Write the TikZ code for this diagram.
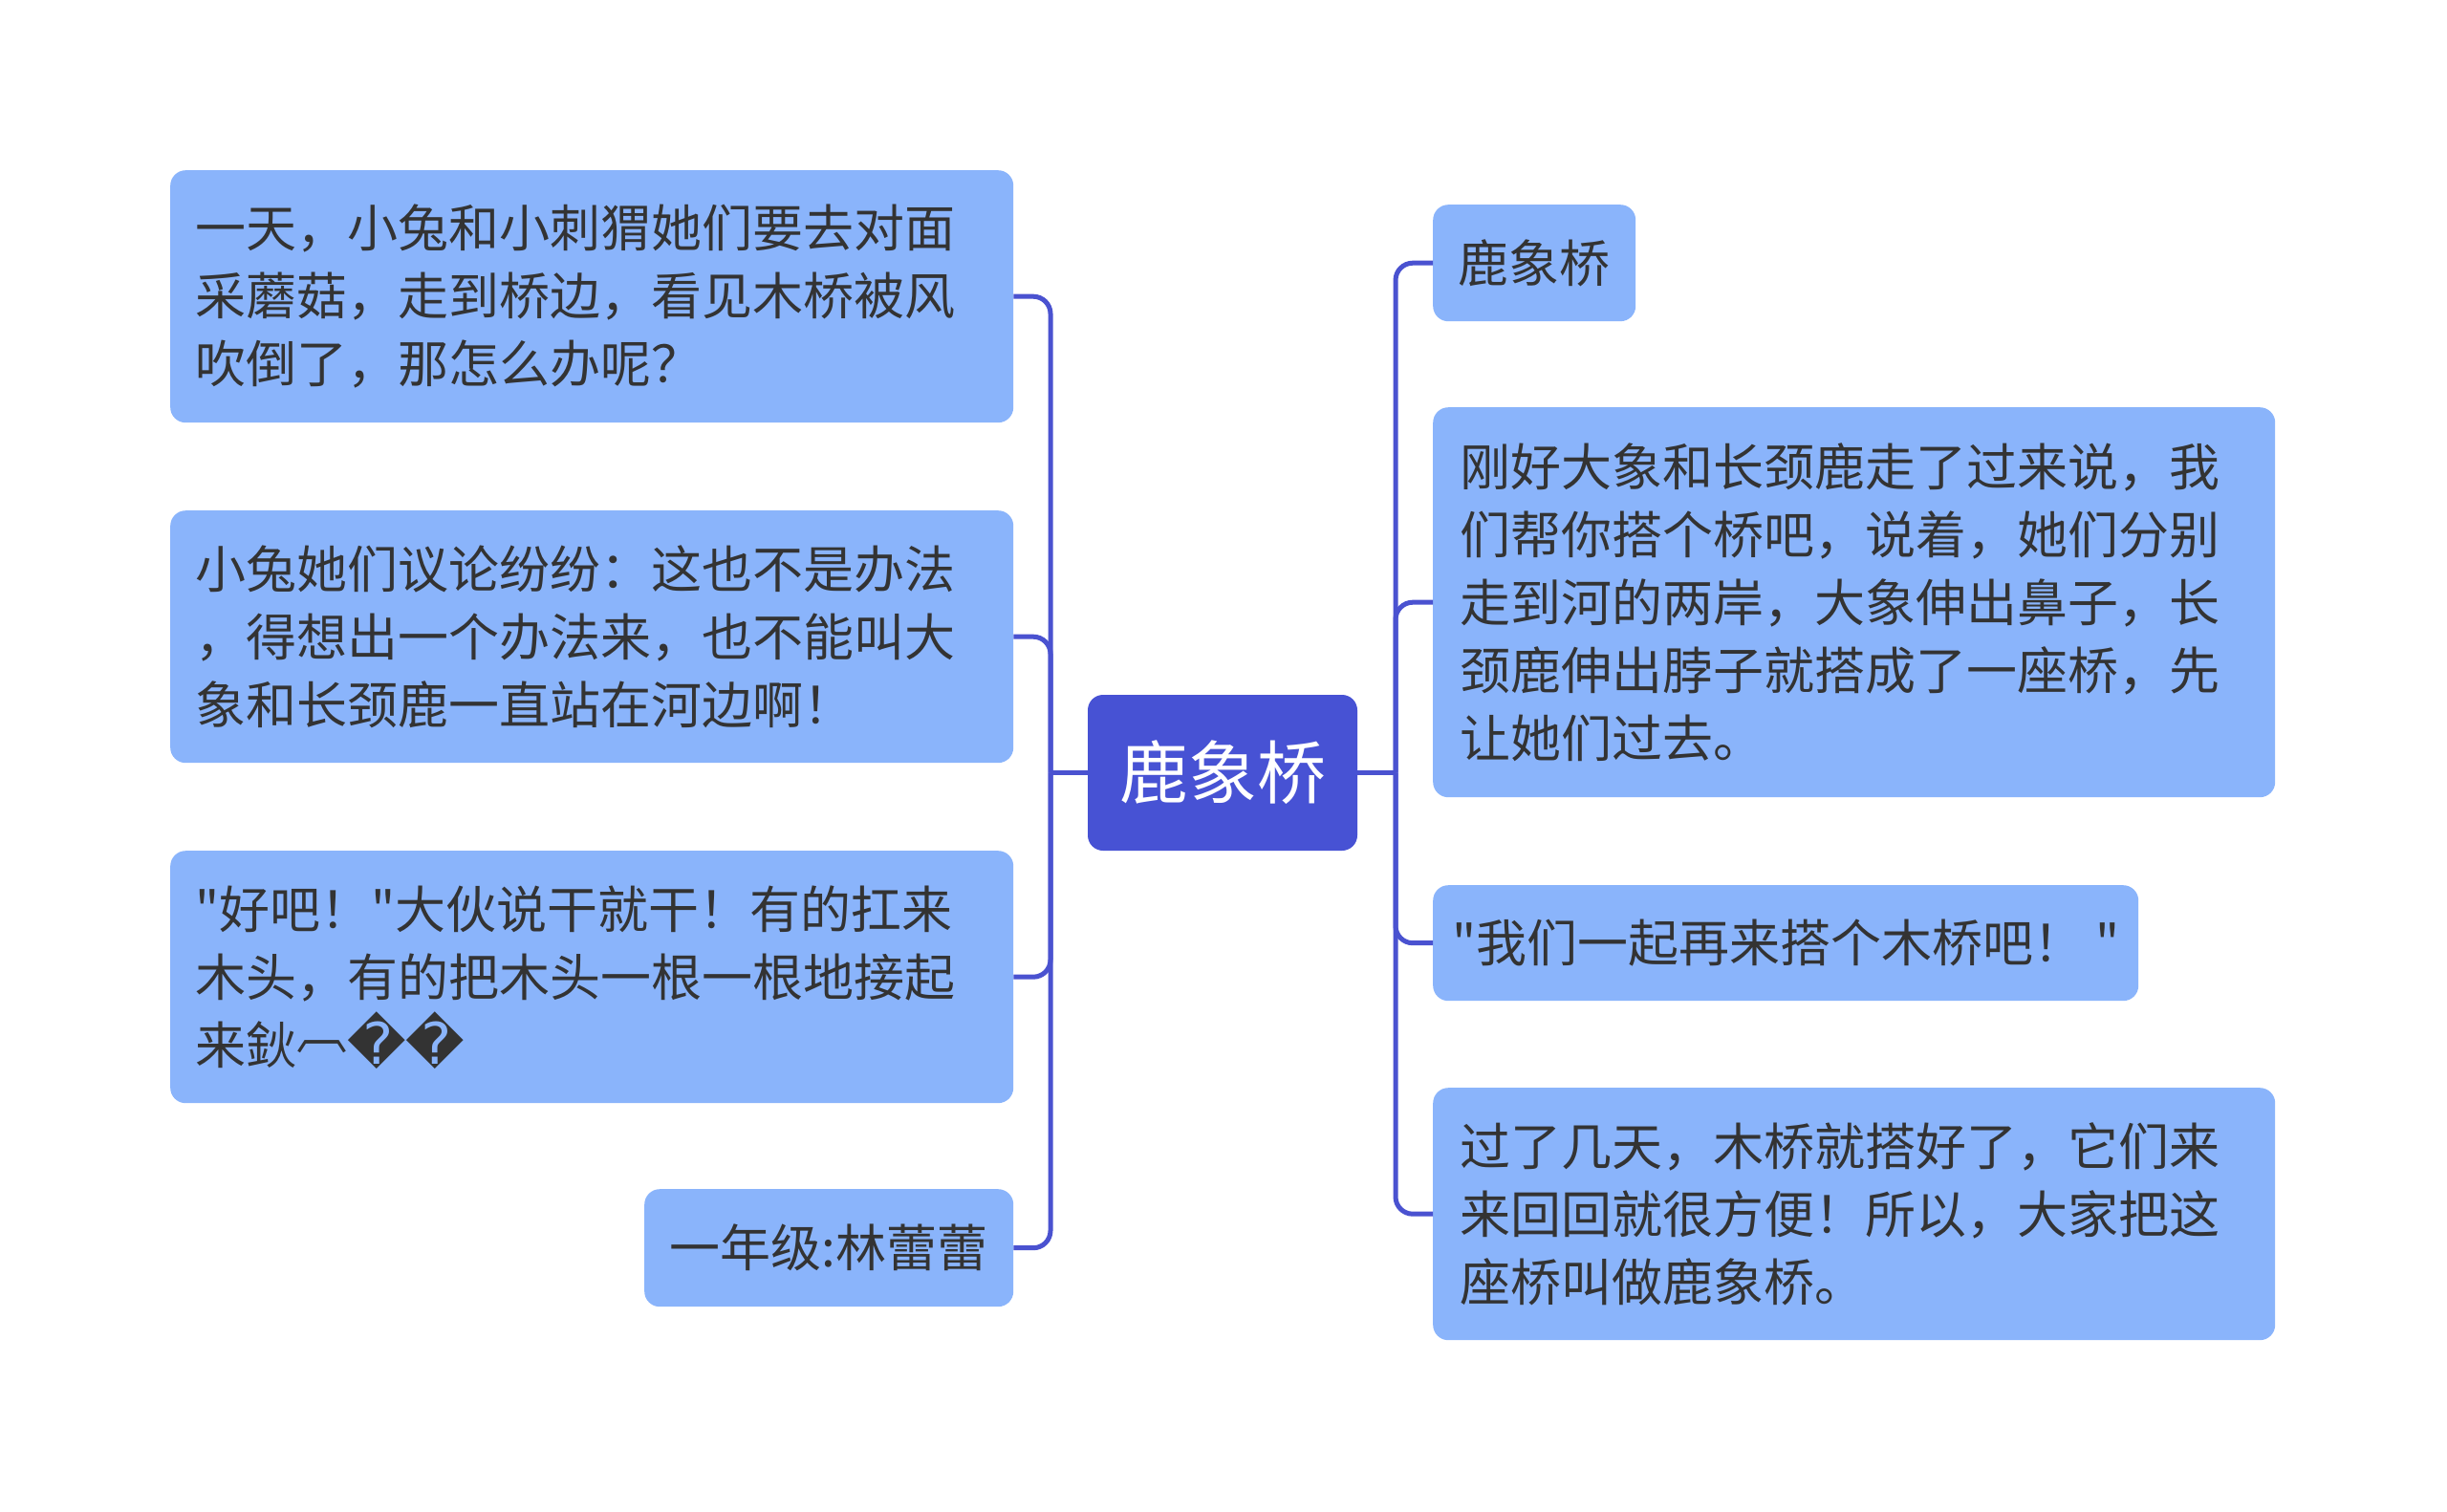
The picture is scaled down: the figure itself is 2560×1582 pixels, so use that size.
\documentclass[tikz,border=0pt]{standalone}
\usepackage{fontspec}
\setmainfont{Noto Sans CJK SC}[Ligatures=TeXOff]
\newfontfamily\replfont{DejaVu Sans}
\definecolor{connc}{RGB}{74,82,208}
\definecolor{boxfill}{RGB}{138,180,251}
\definecolor{rootfill}{RGB}{71,82,212}
\definecolor{txt}{RGB}{51,51,51}
\begin{document}
\begin{tikzpicture}[x=1pt,y=-1pt,
  leaf/.style={fill=boxfill, rounded corners=16pt, text=txt,
    font=\fontsize{53}{71}\selectfont, anchor=north west,
    inner xsep=26pt, inner ysep=0pt, align=left},
  shortleaf/.style={fill=boxfill, rounded corners=16pt, text=txt,
    font=\fontsize{53}{71}\selectfont, anchor=north west,
    inner sep=0pt, align=center},
  conn/.style={draw=connc, line width=5pt},
  connr/.style={draw=connc, line width=5pt, rounded corners=18pt}]
\useasboundingbox[fill=white] (0,0) rectangle (2560,1582);

% root
\node[fill=rootfill, rounded corners=16pt, text=white,
  font=\fontsize{72}{86}\selectfont, minimum width=282pt,
  minimum height=163pt, inner sep=0pt] (root) at (1279,808.5) {鹿象桥};

% left boxes
\node[leaf, text width=830pt, minimum height=264pt] (l1) at (178,178)
  {一天，小兔和小刺猬她们要去对面\\采蘑菇，走到桥边，看见木桥被风\\吹倒了，那怎么办呢？};
\node[leaf, text width=830pt, minimum height=264pt] (l2) at (178,534)
  {小兔她们议论纷纷：这也不是办法\\，得想出一个办法来，也不能叫大\\象和长颈鹿一直站在河边啊！};
\node[leaf, text width=830pt, minimum height=264pt] (l3) at (178,890)
  {"好吧！"大伙说干就干！有的扛来\\木头，有的把木头一根一根地接起\\来鈥\raisebox{0.3em}{︹}{\replfont\fontsize{60}{71}\selectfont ��}};
\node[shortleaf, minimum width=386pt, minimum height=123pt] (l4) at (674,1244)
  {一年级:林蕾蕾};

% right boxes
\node[shortleaf, minimum width=212pt, minimum height=122pt] (r1) at (1499,214)
  {鹿象桥};
\node[leaf, inner xsep=28pt, text width=825pt, minimum height=408pt] (r2) at (1499,426)
  {刚好大象和长颈鹿走了过来说，我\\们帮你搭个桥吧，说着，她们分别\\走到河的两岸，大象伸出鼻子，长\\颈鹿伸出脖子就搭成了一座桥，先\\让她们过去。};
\node[shortleaf, minimum width=738pt, minimum height=121pt] (r3) at (1499,926)
  {"我们一起再来搭个木桥吧！ "};
\node[leaf, inner xsep=28pt, text width=825pt, minimum height=264pt] (r4) at (1499,1138)
  {过了几天，木桥就搭好了，它们来\\来回回就很方便！所以，大家把这\\座桥叫做鹿象桥。};

% connectors
\coordinate (jl) at (1099,808.5);
\coordinate (jr) at (1460,808.5);
\draw[conn] (root.west) -- (jl);
\draw[conn] (root.east) -- (jr);
\draw[connr] (jl) |- (l1.east);
\draw[connr] (jl) |- (l2.east);
\draw[connr] (jl) |- (l3.east);
\draw[connr] (jl) |- (l4.east);
\draw[connr] (jr) |- (r1.west);
\draw[connr] (jr) |- (r2.west);
\draw[connr] (jr) |- (r3.west);
\draw[connr] (jr) |- (r4.west);
\end{tikzpicture}
\end{document}
